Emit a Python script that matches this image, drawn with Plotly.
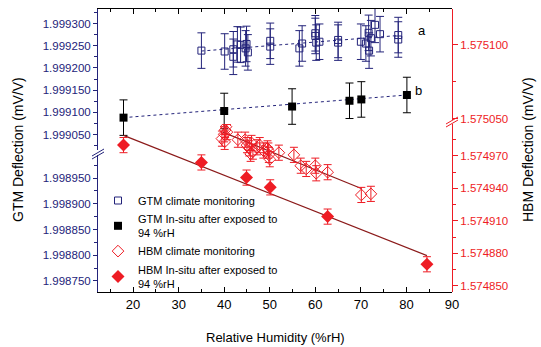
import plotly.graph_objects as go

# ---------------- data ----------------
rh_gtm_clim = [35.0, 40.1, 42.0, 42.0, 42.9, 43.6, 44.9, 45.2, 44.7, 50.1, 50.1, 56.5, 57.1,
               60.0, 60.2, 60.9, 60.0, 65.0, 65.0, 70.0, 71.1, 71.8, 71.7, 72.2, 73.1, 74.2, 78.2, 78.2]
gtm_clim = [1.999239, 1.999237, 1.999242, 1.999225, 1.999253, 1.999252, 1.999254, 1.999235, 1.999244,
            1.999261, 1.999248, 1.999244, 1.999255, 1.999278, 1.999257, 1.999259, 1.999272, 1.999263,
            1.999257, 1.999259, 1.999255, 1.999239, 1.999279, 1.999267, 1.999297, 1.999276, 1.999274, 1.999264]
gtm_clim_err = 0.000040

rh_gtm_insitu = [17.9, 40.0, 54.9, 67.5, 70.1, 80.1]
gtm_insitu = [1.999088, 1.999103, 1.999113, 1.999126, 1.999129, 1.999139]
gtm_insitu_err = 0.000040

rh_hbm_clim = [39.5, 40.0, 40.2, 40.4, 40.6, 40.1, 43.0, 44.6, 45.0, 45.5, 46.0, 46.3, 45.8, 47.2,
               47.8, 48.6, 49.5, 49.8, 50.0, 49.7, 52.0, 55.3, 56.8, 58.0, 60.0, 60.2, 62.7, 70.1, 72.2]
hbm_clim = [1.574986, 1.574990, 1.574994, 1.574997, 1.574992, 1.574983, 1.574985, 1.574985, 1.574980,
            1.574977, 1.574982, 1.574974, 1.574972, 1.574978, 1.574980, 1.574975, 1.574977, 1.574971,
            1.574967, 1.574975, 1.574973, 1.574971, 1.574961, 1.574958, 1.574961, 1.574954, 1.574955,
            1.574934, 1.574935]
hbm_clim_err = 0.000007

rh_hbm_insitu = [17.9, 35.0, 44.9, 50.1, 62.7, 84.5]
hbm_insitu = [1.574980, 1.574964, 1.574950, 1.574941, 1.574914, 1.574870]
hbm_insitu_err = 0.000007

# fitted trend lines (end points)
fit_gtm_clim_x, fit_gtm_clim_y = [35.0, 78.2], [1.999238, 1.999273]
fit_gtm_insitu_x, fit_gtm_insitu_y = [17.9, 80.1], [1.999088, 1.999139]
fit_hbm_clim_x, fit_hbm_clim_y = [39.7, 70.1], [1.574992, 1.574940]
fit_hbm_insitu_x, fit_hbm_insitu_y = [17.9, 84.5], [1.574989, 1.574878]

# ---------------- style ----------------
NAVY = "#23237a"
RED = "#ee1c24"
BROWN = "#8b1a1a"
FONT = "Liberation Sans, Arial, sans-serif"

W, H = 541, 347
L, R, T, B = 98, 452, 9, 292
PW, PH = R - L, B - T


def px(xp):
    return (xp - L) / PW


def py(yp):
    return (B - yp) / PH


fig = go.Figure()

# fit lines
fig.add_trace(go.Scatter(x=fit_gtm_clim_x, y=fit_gtm_clim_y, mode="lines",
                         line=dict(color=NAVY, dash="dot", width=1), showlegend=False,
                         xaxis="x", yaxis="y", hoverinfo="skip"))
fig.add_trace(go.Scatter(x=fit_gtm_insitu_x, y=fit_gtm_insitu_y, mode="lines",
                         line=dict(color=NAVY, dash="dot", width=1), showlegend=False,
                         xaxis="x", yaxis="y", hoverinfo="skip"))
fig.add_trace(go.Scatter(x=fit_hbm_clim_x, y=fit_hbm_clim_y, mode="lines",
                         line=dict(color=BROWN, width=1.2), showlegend=False,
                         xaxis="x", yaxis="y4", hoverinfo="skip"))
fig.add_trace(go.Scatter(x=fit_hbm_insitu_x, y=fit_hbm_insitu_y, mode="lines",
                         line=dict(color=BROWN, width=1.2), showlegend=False,
                         xaxis="x", yaxis="y4", hoverinfo="skip"))

# data
fig.add_trace(go.Scatter(x=rh_gtm_clim, y=gtm_clim, mode="markers", name="GTM climate monitoring",
                         marker=dict(symbol="square-open", size=7, color=NAVY, line=dict(width=1)),
                         error_y=dict(type="constant", value=gtm_clim_err, color=NAVY, thickness=1, width=4),
                         xaxis="x", yaxis="y"))
fig.add_trace(go.Scatter(x=rh_gtm_insitu, y=gtm_insitu, mode="markers",
                         name="GTM In-situ after exposed to<br>94 %rH",
                         marker=dict(symbol="square", size=8, color="black"),
                         error_y=dict(type="constant", value=gtm_insitu_err, color="black", thickness=1, width=4),
                         xaxis="x", yaxis="y"))
fig.add_trace(go.Scatter(x=rh_hbm_clim, y=hbm_clim, mode="markers", name="HBM climate monitoring",
                         marker=dict(symbol="diamond-open", size=9, color=RED, line=dict(width=1)),
                         error_y=dict(type="constant", value=hbm_clim_err, color=RED, thickness=1, width=4),
                         xaxis="x", yaxis="y4"))
fig.add_trace(go.Scatter(x=rh_hbm_insitu, y=hbm_insitu, mode="markers",
                         name="HBM In-situ after exposed to<br>94 %rH",
                         marker=dict(symbol="diamond", size=10, color=RED),
                         error_y=dict(type="constant", value=hbm_insitu_err, color=RED, thickness=1, width=4),
                         xaxis="x", yaxis="y4"))
# empty traces so that every axis segment of the broken axes gets drawn
for xa, ya in [("x2", "y"), ("x", "y2"), ("x", "y3")]:
    fig.add_trace(go.Scatter(x=[], y=[], xaxis=xa, yaxis=ya, showlegend=False, hoverinfo="skip"))

xr = [12.3, 90]
common_x = dict(range=xr, showline=True, linecolor="black", linewidth=1, showgrid=False,
                zeroline=False, ticks="inside", ticklen=5, tickcolor="black", dtick=10, tick0=0,
                minor=dict(ticks="inside", ticklen=3, dtick=5, tick0=0, tickcolor="black"))

yl = dict(showline=True, linecolor=NAVY, linewidth=1, showgrid=False, zeroline=False,
          ticks="outside", ticklen=4, tickcolor=NAVY, tickformat=".6f",
          tickfont=dict(color=NAVY, size=11.5, family=FONT), anchor="x", side="left")
yr = dict(showline=True, linecolor=RED, linewidth=1, showgrid=False, zeroline=False,
          ticks="outside", ticklen=5, tickcolor=RED, tickformat=".6f",
          tickfont=dict(color=RED, size=11.5, family=FONT), anchor="x", side="right")

fig.update_layout(
    width=W, height=H, margin=dict(l=L, r=W - R, t=T, b=H - B),
    paper_bgcolor="white", plot_bgcolor="rgba(0,0,0,0)",
    font=dict(family=FONT, color="black"),
    xaxis=dict(**common_x, domain=[0, 1], anchor="y2",
               tickfont=dict(size=13, family=FONT, color="black")),
    xaxis2=dict(**common_x, overlaying="x", anchor="y", side="top", showticklabels=False),
    yaxis=dict(**yl, domain=[py(150), 1], range=[1.9990151, 1.9993327],
               tick0=1.9993, dtick=0.00005,
               minor=dict(ticks="outside", ticklen=3, dtick=0.000025, tick0=1.9993, tickcolor=NAVY)),
    yaxis2=dict(**yl, domain=[0, py(155)], range=[1.9987286, 1.9989947],
                tick0=1.99875, dtick=0.00005,
                minor=dict(ticks="outside", ticklen=3, dtick=0.000025, tick0=1.99875, tickcolor=NAVY)),
    yaxis3=dict(**yr, domain=[py(120), 1], range=[1.5750493, 1.5751243],
                tick0=1.57505, dtick=0.00005,
                minor=dict(ticks="outside", ticklen=3, dtick=0.000025, tick0=1.57505, tickcolor=RED)),
    yaxis4=dict(**yr, domain=[0, py(124)], range=[1.5748444, 1.5749995],
                tick0=1.57485, dtick=0.00003,
                minor=dict(ticks="outside", ticklen=3, dtick=0.000015, tick0=1.57485, tickcolor=RED)),
    legend=dict(x=px(98), y=py(186), xanchor="left", yanchor="top", bgcolor="rgba(0,0,0,0)",
                font=dict(size=11, family=FONT, color="black"), tracegroupgap=0, itemwidth=30),
    showlegend=True,
)

shapes = []
for (x0, y0, x1, y1) in [(92, 156, 104, 149), (92, 159, 104, 152),
                         (446, 124, 458, 117), (446, 127, 458, 120)]:
    shapes.append(dict(type="line", xref="paper", yref="paper", x0=px(x0), y0=py(y0),
                       x1=px(x1), y1=py(y1), line=dict(color=NAVY if x0 < 200 else RED, width=1)))
fig.update_layout(shapes=shapes)

annotations = [
    dict(text="GTM Deflection (mV/V)", xref="paper", yref="paper", x=px(18), y=py(150),
         xanchor="center", yanchor="middle",
         textangle=-90, showarrow=False, font=dict(size=14, family=FONT, color="black")),
    dict(text="HBM Deflection (mV/V)", xref="paper", yref="paper", x=px(528), y=py(150),
         xanchor="center", yanchor="middle",
         textangle=-90, showarrow=False, font=dict(size=14, family=FONT, color="black")),
    dict(text="Relative Humidity (%rH)", xref="paper", yref="paper", x=0.5, y=py(337),
         xanchor="center", yanchor="middle",
         showarrow=False, font=dict(size=13, family=FONT, color="black")),
    dict(text="a", xref="x", yref="y", x=83.5, y=1.999284, showarrow=False,
         font=dict(size=13, family=FONT, color="black")),
    dict(text="b", xref="x", yref="y", x=82.6, y=1.999150, showarrow=False,
         font=dict(size=13, family=FONT, color="black")),
]
fig.update_layout(annotations=annotations)

fig.write_html("out.html")
